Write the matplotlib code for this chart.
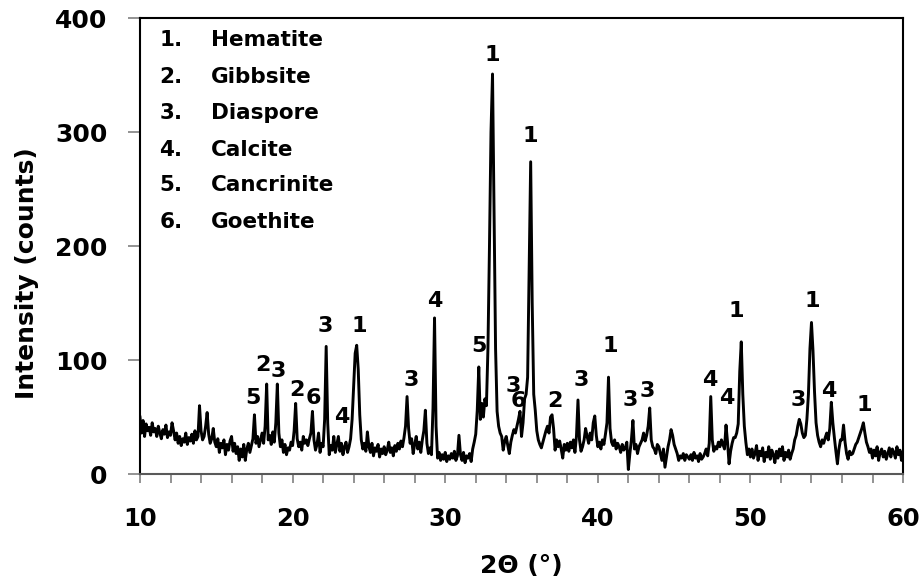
import numpy as np
import matplotlib.pyplot as plt

# 2-theta grid: 10.0 .. 60.0, step 0.1 deg
two_theta = np.round(np.arange(100, 601) * 0.1, 1)

# intensity (counts), one row per degree (x.0 .. x.9)
intensity = [
    50, 36, 47, 33, 44, 38, 41, 34, 45, 37,      # 10
    40, 33, 42, 36, 31, 39, 35, 43, 32, 37,      # 11
    34, 45, 38, 30, 36, 27, 33, 25, 31, 28,      # 12
    36, 26, 32, 29, 35, 27, 38, 30, 33, 60,      # 13
    38, 30, 33, 42, 54, 35, 27, 31, 40, 28,      # 14
    24, 31, 19, 27, 23, 30, 17, 26, 21, 29,      # 15
    33, 20, 27, 18, 24, 12, 22, 15, 26, 12,      # 16
    22, 27, 19, 25, 31, 52, 27, 33, 24, 30,      # 17
    36, 27, 42, 79, 30, 34, 26, 37, 28, 45,      # 18
    79, 36, 24, 30, 19, 26, 17, 23, 21, 28,      # 19
    25, 38, 62, 31, 24, 28, 21, 33, 27, 30,      # 20
    25, 31, 36, 55, 30, 21, 26, 36, 19, 27,      # 21
    24, 48, 112, 45, 17, 25, 21, 33, 19, 26,     # 22
    33, 20, 27, 17, 24, 28, 19, 24, 31, 48,      # 23
    78, 106, 113, 92, 52, 30, 22, 27, 20, 37,    # 24
    24, 19, 27, 16, 23, 20, 26, 15, 22, 18,      # 25
    24, 17, 21, 28, 19, 23, 16, 25, 20, 27,      # 26
    22, 29, 24, 32, 42, 68, 40, 27, 31, 18,      # 27
    26, 33, 22, 28, 19, 30, 38, 56, 27, 18,      # 28
    23, 17, 58, 137, 42, 14, 19, 12, 17, 13,     # 29
    19, 11, 16, 13, 18, 14, 20, 12, 16, 34,      # 30
    17, 12, 19, 10, 16, 14, 18, 11, 22, 28,      # 31
    35, 56, 94, 48, 62, 50, 66, 60, 110, 200,    # 32
    300, 351, 230, 110, 55, 42, 36, 33, 21, 29,  # 33
    33, 25, 18, 28, 34, 39, 36, 42, 48, 55,      # 34
    33, 45, 66, 70, 85, 180, 274, 150, 70, 56,   # 35
    38, 30, 26, 23, 28, 33, 38, 42, 36, 50,      # 36
    52, 40, 21, 30, 24, 29, 22, 14, 26, 21,      # 37
    27, 20, 28, 23, 30, 19, 33, 65, 30, 20,      # 38
    24, 30, 40, 33, 27, 36, 30, 45, 51, 34,      # 39
    24, 28, 22, 30, 26, 35, 45, 85, 40, 28,      # 40
    25, 30, 22, 27, 24, 19, 26, 21, 23, 28,      # 41
    4, 18, 30, 47, 22, 26, 18, 24, 27, 30,       # 42
    36, 29, 34, 42, 58, 30, 24, 22, 18, 26,      # 43
    24, 18, 12, 22, 6, 15, 24, 30, 39, 34,       # 44
    26, 22, 18, 12, 16, 14, 18, 12, 17, 15,      # 45
    13, 17, 12, 19, 14, 16, 11, 18, 13, 15,      # 46
    18, 22, 16, 27, 68, 30, 20, 24, 22, 28,      # 47
    24, 30, 26, 22, 43, 28, 9, 20, 27, 32,       # 48
    32, 36, 44, 90, 116, 70, 42, 28, 17, 22,     # 49
    15, 22, 14, 18, 25, 12, 20, 16, 23, 11,      # 50
    19, 15, 24, 13, 21, 17, 10, 20, 14, 22,      # 51
    16, 24, 12, 19, 15, 21, 13, 18, 22, 30,      # 52
    34, 42, 48, 44, 36, 32, 34, 48, 70, 110,     # 53
    133, 108, 72, 45, 34, 28, 24, 30, 27, 32,    # 54
    36, 30, 40, 63, 45, 32, 20, 9, 22, 30,       # 55
    30, 43, 28, 18, 13, 20, 17, 18, 22, 26,      # 56
    28, 32, 36, 40, 45, 36, 28, 24, 19, 22,      # 57
    14, 21, 16, 24, 12, 19, 22, 15, 20, 13,      # 58
    18, 23, 15, 22, 19, 14, 24, 17, 21, 12,      # 59
    19,                                          # 60
]

# phase labels above the peaks
peak_labels = ["5", "2", "3", "2", "6", "3", "4", "1", "3", "4", "5", "1", "3", "6",
               "1", "2", "3", "1", "3", "3", "4", "4", "1", "3", "1", "4", "1"]
peak_x = [17.43, 18.08, 19.06, 20.27, 21.36, 22.12, 23.22, 24.37, 27.76, 29.29, 32.21,
          33.11, 34.46, 34.79, 35.56, 37.2, 38.94, 40.8, 42.11, 43.24, 47.35, 48.45,
          49.06, 53.12, 54.02, 55.15, 57.44]
peak_y = [67, 96, 90, 74, 66.7, 129.8, 50.5, 129.8, 82.8, 151.8, 112, 367.7, 77, 63.7,
          297, 63.7, 82.8, 112, 65, 72.5, 82.8, 66.7, 143, 65, 151.8, 72.5, 60.8]

phase_num = ["1.", "2.", "3.", "4.", "5.", "6."]
phase_name = ["Hematite", "Gibbsite", "Diaspore", "Calcite", "Cancrinite", "Goethite"]

plt.rcParams['font.family'] = ['DejaVu Sans']
plt.rcParams['font.weight'] = 'bold'

fig = plt.figure(figsize=(9.21, 5.86), dpi=100)
ax = fig.add_axes([0.152, 0.191, 0.8285, 0.778])

ax.plot(two_theta, intensity, color='black', lw=2.1)

ax.set_xlim(10, 60)
ax.set_ylim(0, 400)
ax.set_xticks(range(10, 61, 10))
ax.set_xticks(range(10, 61, 2), minor=True)
ax.set_yticks(range(0, 401, 100))

ax.tick_params(axis='both', which='both', direction='out', color='#808080', width=1.2)
ax.tick_params(axis='x', which='both', length=6.5, pad=17, labelsize=17.5)
ax.tick_params(axis='y', length=8.5, pad=15, labelsize=18)
for lab in ax.get_xticklabels() + ax.get_yticklabels():
    lab.set_fontweight('bold')

for s in ax.spines.values():
    s.set_linewidth(1.5)
    s.set_color('black')
ax.spines['bottom'].set_color('#595959')

ax.set_xlabel("2Θ (°)", fontsize=18, fontweight='bold', va='center')
ax.xaxis.set_label_coords(0.5, -0.202)
ax.set_ylabel("Intensity (counts)", fontsize=18, fontweight='bold', va='center')
ax.yaxis.set_label_coords(-0.148, 0.441)

# peak labels
for t, x, y in zip(peak_labels, peak_x, peak_y):
    ax.text(x, y, t, fontsize=16, fontweight='bold', ha='center', va='center')

# phase key
key_y = [0.952, 0.871, 0.791, 0.7105, 0.634, 0.553]
for n, name, y in zip(phase_num, phase_name, key_y):
    ax.text(0.0253, y, n, transform=ax.transAxes, fontsize=15.5, fontweight='bold',
            ha='left', va='center')
    ax.text(0.0927, y, name, transform=ax.transAxes, fontsize=15.5, fontweight='bold',
            ha='left', va='center')

fig.savefig("out.png", dpi=100)
